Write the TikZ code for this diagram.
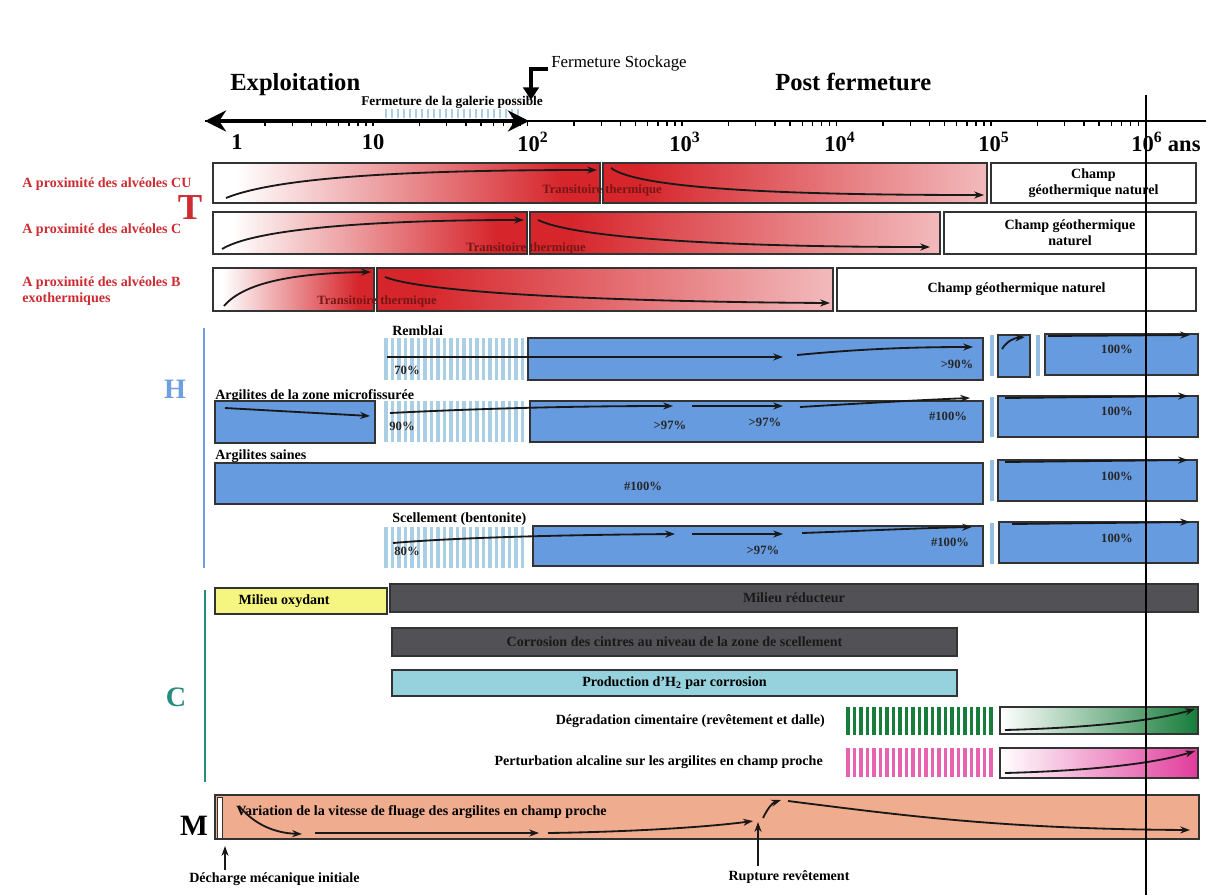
\documentclass[tikz,border=0pt]{standalone}
\usepackage{fontspec}
\setmainfont{Liberation Serif}
\usetikzlibrary{arrows.meta,positioning,fit}

\definecolor{tred}{RGB}{214,38,44}
\definecolor{tredtxt}{RGB}{120,22,22}
\definecolor{tlabel}{RGB}{205,45,50}
\definecolor{hblue}{RGB}{102,155,224}
\definecolor{hstripe}{RGB}{170,206,228}
\definecolor{hsepcol}{RGB}{150,190,228}
\definecolor{hletter}{RGB}{110,160,225}
\definecolor{cteal}{RGB}{40,140,128}
\definecolor{cyel}{RGB}{245,245,130}
\definecolor{cdark}{RGB}{82,82,86}
\definecolor{ccyan}{RGB}{150,210,222}
\definecolor{cgreen}{RGB}{22,125,58}
\definecolor{cpink}{RGB}{225,60,155}
\definecolor{msalmon}{RGB}{240,172,142}

\pgfdeclarehorizontalshading{heatup}{100bp}{color(0bp)=(white); color(28bp)=(white); color(70bp)=(tred); color(100bp)=(tred)}
\pgfdeclarehorizontalshading{cooldown}{100bp}{color(0bp)=(tred); color(30bp)=(tred); color(88bp)=(tred!12); color(100bp)=(tred!8)}

\begin{document}
\begin{tikzpicture}[x=0.025cm, y=-0.025cm,
    txt/.style={font=\bfseries\fontsize{10}{11.5}\selectfont, inner sep=0pt},
    headtxt/.style={font=\bfseries\fontsize{17.5}{20}\selectfont, inner sep=0pt},
    ticktxt/.style={font=\bfseries\fontsize{16}{18}\selectfont, inner sep=0pt},
    redtxt/.style={txt, text=tlabel, align=left},
    pct/.style={font=\bfseries\fontsize{9}{10}\selectfont, inner sep=0pt, text=black!85},
    trtxt/.style={font=\bfseries\fontsize{9}{10}\selectfont, inner sep=0pt, text=tredtxt},
    barbox/.style={draw=black!80, line width=0.9pt, inner sep=0pt},
    boxtxt/.style={txt, align=center},
    hbox/.style={barbox, fill=hblue},
    trend/.style={line width=1.3pt, black!90, -{Stealth[length=7pt,width=5pt]}},
    hsep/.style={hsepcol, line width=2.2pt},
    bigletter/.style={font=\bfseries\fontsize{21}{24}\selectfont, inner sep=0pt},
  ]
  \fill[white] (0,0) rectangle (1216,895);
  \useasboundingbox (0,0) rectangle (1216,895);

  % time axis
  \coordinate (axL) at (205,121);
  \coordinate (axG) at (529,121);
  \coordinate (axR) at (1206,121);
  \foreach \x in {386,392,...,518}
    \draw[hstripe, line width=1.6pt] (\x,109) -- (\x,118);
  \foreach \d in {0,...,5}
    \foreach \m in {1,...,9}
      \draw[line width=0.9pt] ({218.5+154.5*(\d+log10(\m))},121) -- ++(0,5);
  \draw[line width=0.9pt] (1145.5,121) -- ++(0,5);
  \draw[line width=1.6pt] (axL) -- (axR);
  \draw[line width=2.6pt, {Stealth[length=15pt,width=15pt]}-{Stealth[length=15pt,width=15pt]}] (axL) -- (axG);

  \node[ticktxt] (lab0) at (237,142) {1};
  \node[ticktxt] (lab1) at (373,142) {10};
  \node[ticktxt] (lab2) at (533,142) {10\textsuperscript{2}};
  \node[ticktxt] (lab3) at (685,142) {10\textsuperscript{3}};
  \node[ticktxt] (lab4) at (840,142) {10\textsuperscript{4}};
  \node[ticktxt] (lab5) at (994,142) {10\textsuperscript{5}};
  \node[ticktxt, anchor=west] (lab6) at (1131,142) {10\textsuperscript{6} ans};

  \node[headtxt, anchor=base west] (expl) at (230,90) {Exploitation};
  \node[headtxt, anchor=base west] (postf) at (775,90) {Post fermeture};
  \node[font=\fontsize{12}{14}\selectfont, inner sep=0pt, anchor=base west] (fstock) at (551,67) {Fermeture Stockage};
  \node[txt, font=\bfseries\fontsize{9.5}{11}\selectfont, anchor=base west] (galerie) at (361,105) {Fermeture de la galerie possible};
  \coordinate (fsA) at (548,69);
  \coordinate (fsB) at (531,100);
  \draw[line width=2.8pt, -{Triangle[length=9pt,width=11pt]}] (fsA) -- (fsB |- fsA) -- (fsB);

  % T : thermique
  \node[bigletter, text=tlabel, font=\bfseries\fontsize{26}{28}\selectfont] (Tl) at (190,208) {T};
  \node[redtxt, anchor=base west] (lcu) at (22,187) {A proximité des alvéoles CU};
  \node[redtxt, anchor=base west] (lc) at (22,233) {A proximité des alvéoles C};
  \node[redtxt, anchor=north west] (lb) at (22,276) {A proximité des alvéoles B\\exothermiques};

  \node[barbox, fit={(213,163) (600,203)}, shading=heatup] (cu1) {};
  \node[barbox, fit={(603,163) (987,203)}, shading=cooldown] (cu2) {};
  \node[barbox, fit={(991,163) (1196,203)}, fill=white] (cu3) {};
  \node[boxtxt] (cu3t) at (cu3.center) {Champ\\géothermique naturel};
  \node[barbox, fit={(213,212) (527,254)}, shading=heatup] (c1) {};
  \node[barbox, fit={(530,212) (940,254)}, shading=cooldown] (c2) {};
  \node[barbox, fit={(944,212) (1196,254)}, fill=white] (c3) {};
  \node[boxtxt] (c3t) at (c3.center) {Champ géothermique\\naturel};
  \node[barbox, fit={(213,268) (374,311)}, shading=heatup] (b1) {};
  \node[barbox, fit={(377,268) (833,311)}, shading=cooldown] (b2) {};
  \node[barbox, fit={(837,268) (1196,311)}, fill=white] (b3) {};
  \node[boxtxt] (b3t) at (b3.center) {Champ géothermique naturel};

  \draw[trend] (226,198) .. controls (280,176) and (420,170) .. (597,170);
  \draw[trend] (611,168) .. controls (640,190) and (800,195) .. (984,195);
  \draw[trend] (222,249) .. controls (260,226) and (400,220) .. (524,220);
  \draw[trend] (538,220) .. controls (580,240) and (750,247) .. (930,247);
  \draw[trend] (224,306) .. controls (245,281) and (300,273) .. (371,272);
  \draw[trend] (385,277) .. controls (430,295) and (650,302) .. (830,303);
  \node[trtxt] (trcu) at (602,190) {Transitoire thermique};
  \node[trtxt] (trc) at (526,248) {Transitoire thermique};
  \node[trtxt] (trb) at (377,301) {Transitoire thermique};

  % H : hydraulique
  \node[bigletter, text=hletter, font=\bfseries\fontsize{20}{22}\selectfont] (Hl) at (175,389) {H};
  \draw[hletter, line width=2pt] (204,328) -- (204,568);

  \node[txt, anchor=base west] (remb) at (392,335) {Remblai};
  \foreach \x in {386,392.5,...,525}
    \draw[hstripe, line width=2.2pt] (\x,338) -- (\x,380);
  \node[hbox, fit={(528,338) (983,380)}] (remb1) {};
  \draw[hsep] (992,335) -- (992,376);
  \node[hbox, fit={(998,335) (1030,377)}] (remb2) {};
  \draw[hsep] (1038,335) -- (1038,376);
  \node[hbox, fit={(1045,334) (1198,375)}] (remb3) {};
  \draw[trend] (387,357) -- (783,357);
  \draw[trend] (797,355) .. controls (850,350) and (900,347) .. (973,347);
  \draw[trend] (1002,349) .. controls (1007,341) and (1014,338) .. (1025,337);
  \draw[trend] (1048,336) -- (1190,335);
  \node[pct] (p70) at (407,370) {70\%};
  \node[pct] (p90) at (957,364) {>90\%};
  \node[pct] (p100a) at (1117,349) {100\%};

  \node[txt, anchor=base west] (micro) at (215,399) {Argilites de la zone microfissurée};
  \node[hbox, fit={(215,401) (375,443)}] (micro0) {};
  \foreach \x in {386,392.5,...,525}
    \draw[hstripe, line width=2.2pt] (\x,401) -- (\x,442);
  \node[hbox, fit={(530,401) (983,442)}] (micro1) {};
  \draw[hsep] (992,397) -- (992,437);
  \node[hbox, fit={(998,396) (1198,437)}] (micro2) {};
  \draw[trend] (225,408) -- (370,416);
  \draw[trend] (390,413) .. controls (450,410) and (550,406) .. (673,406);
  \draw[trend] (692,406) -- (783,406);
  \draw[trend] (800,407) .. controls (850,404) and (920,400) .. (970,398);
  \draw[trend] (1005,398) -- (1188,396);
  \node[pct] (p90b) at (402,426) {90\%};
  \node[pct] (p97a) at (670,425) {>97\%};
  \node[pct] (p97b) at (765,422) {>97\%};
  \node[pct] (p100b) at (948,416) {\#100\%};
  \node[pct] (p100c) at (1117,411) {100\%};

  \node[txt, anchor=base west] (saine) at (215,459) {Argilites saines};
  \node[hbox, fit={(215,463) (983,504)}] (saine1) {};
  \draw[hsep] (992,460) -- (992,501);
  \node[hbox, fit={(998,460) (1197,501)}] (saine2) {};
  \draw[trend] (1005,462) -- (1188,460);
  \node[pct] (p100d) at (643,486) {\#100\%};
  \node[pct] (p100e) at (1117,476) {100\%};

  \node[txt, anchor=base west] (scel) at (392,522) {Scellement (bentonite)};
  \foreach \x in {386,392.5,...,528}
    \draw[hstripe, line width=2.2pt] (\x,527) -- (\x,568);
  \node[hbox, fit={(533,526) (983,566)}] (scel1) {};
  \draw[hsep] (992,523) -- (992,564);
  \node[hbox, fit={(999,522) (1198,563)}] (scel2) {};
  \draw[trend] (393,543) .. controls (450,538) and (550,535) .. (675,534);
  \draw[trend] (692,534) -- (783,534);
  \draw[trend] (802,533) .. controls (860,531) and (920,528) .. (972,527);
  \draw[trend] (1012,524) -- (1190,522);
  \node[pct] (p80) at (407,551) {80\%};
  \node[pct] (p97c) at (763,550) {>97\%};
  \node[pct] (p100f) at (950,542) {\#100\%};
  \node[pct] (p100g) at (1117,538) {100\%};

  % C : chimique
  \node[bigletter, text=cteal, font=\bfseries\fontsize{20}{22}\selectfont] (Cl) at (176,697) {C};
  \draw[cteal, line width=2pt] (205,590) -- (205,782);
  \node[barbox, fill=cyel, fit={(215,588) (387,614)}] (oxy) {};
  \node[boxtxt] (oxyt) at ([xshift=-12]oxy.center) {Milieu oxydant};
  \node[barbox, fill=cdark, fit={(390,584) (1198,612)}] (redu) {};
  \node[boxtxt, text=black!90] (redut) at (redu.center) {Milieu réducteur};
  \node[barbox, fill=cdark, fit={(392,628) (957,656)}] (cintre) {};
  \node[boxtxt, text=black!90] (cintret) at (cintre.center) {Corrosion des cintres au niveau de la zone de scellement};
  \node[barbox, fill=ccyan, fit={(392,670) (957,696)}] (htwo) {};
  \node[boxtxt] (htwot) at (htwo.center) {Production d'H\textsubscript{2} par corrosion};

  \node[txt, anchor=east] (ciment) at (825,721) {Dégradation cimentaire (revêtement et dalle)};
  \foreach \x in {848,854.5,...,995}
    \draw[cgreen, line width=2.4pt] (\x,707) -- (\x,735);
  \node[barbox, fit={(1000,707) (1198,734)}, left color=white, right color=cgreen] (ciment1) {};
  \draw[trend] (1005,730) .. controls (1080,728) and (1150,722) .. (1195,709);

  \node[txt, anchor=east] (alcal) at (823,762) {Perturbation alcaline sur les argilites en champ proche};
  \foreach \x in {848,854.5,...,995}
    \draw[cpink!80, line width=2.4pt] (\x,748) -- (\x,777);
  \node[barbox, fit={(1000,748) (1198,778)}, left color=white, right color=cpink] (alcal1) {};
  \draw[trend] (1005,773) .. controls (1080,771) and (1150,765) .. (1195,751);

  % M : mecanique
  \node[bigletter] (Ml) at (194,826) {M};
  \node[barbox, fill=msalmon, fit={(215,795) (1199,839)}] (fluage) {};
  \node[draw=black!80, line width=0.6pt, fill=white, inner sep=0pt, fit={(217,797) (222,838)}] (strip) {};
  \node[txt, anchor=west] (fluagetxt) at (236,812) {Variation de la vitesse de fluage des argilites en champ proche};
  \draw[trend] (239,806) .. controls (255,825) and (275,833) .. (302,834);
  \draw[trend] (315,833) -- (539,833);
  \draw[trend] (548,833) .. controls (620,832) and (700,828) .. (753,821);
  \draw[trend] (763,818) .. controls (768,808) and (772,803) .. (781,800);
  \draw[trend] (788,801) .. controls (900,815) and (1000,829) .. (1190,830);

  \node[txt, anchor=base west] (dech) at (189,882) {Décharge mécanique initiale};
  \coordinate (dechA) at (225,870);
  \coordinate (dechB) at (225,846);
  \draw[trend] (dechA) -- (dechB);
  \node[txt] (rupt) at (789,877) {Rupture revêtement};
  \coordinate (ruptA) at (758,866);
  \coordinate (ruptB) at (758,822);
  \draw[trend] (ruptA) -- (ruptB);

  % 10^6 years line
  \coordinate (miltop) at (1146,95);
  \coordinate (milbot) at (1146,895);
  \draw[line width=0.9pt] (miltop) -- (milbot);
\end{tikzpicture}
\end{document}
